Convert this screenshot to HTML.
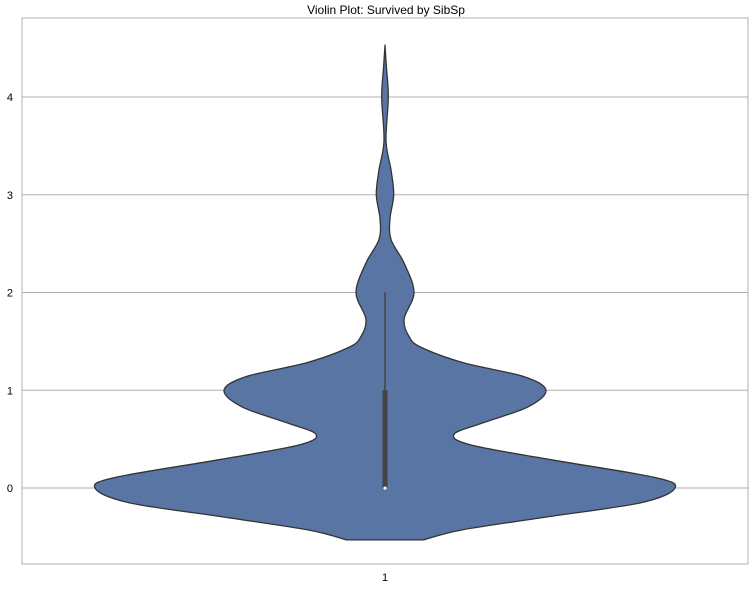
<!DOCTYPE html>
<html><head><meta charset="utf-8"><style>
body{margin:0;background:#fff;}
svg text{font-family:"Liberation Sans",Arial,sans-serif;}
</style></head><body>
<svg width="755" height="591" xmlns="http://www.w3.org/2000/svg">
<g id="root"></g>
</svg>
<script>
const yTicks=[0,1,2,3,4];
const categories=["1"];
const densY=[-0.53,-0.43,-0.3,-0.15,0,0.11,0.29,0.44,0.55,0.67,0.83,1.0,1.14,1.28,1.44,1.55,1.73,2.0,2.3,2.54,2.75,3.0,3.25,3.55,4.0,4.3,4.53];
const densW=[0.134,0.262,0.548,0.883,1.0,0.928,0.572,0.297,0.238,0.341,0.493,0.555,0.479,0.272,0.124,0.083,0.066,0.1,0.066,0.021,0.017,0.03,0.021,0.0035,0.0114,0.005,0];
const boxStats=[0,0,0,1,2]; // whiskerLow, q1, median, q3, whiskerHigh

const NS="http://www.w3.org/2000/svg";
const root=document.getElementById('root');
const L=22,R=748,T=18,B=564;
const yMin=-0.777,yMax=4.808;
const y=v=>B-(v-yMin)/(yMax-yMin)*(B-T);
const cx=i=>L+(i+0.5)*(R-L)/categories.length;
const halfMax=290;
function mk(tag,attrs,txt){const e=document.createElementNS(NS,tag);for(const k in attrs)e.setAttribute(k,attrs[k]);if(txt!==undefined)e.textContent=txt;root.appendChild(e);return e;}

const title=mk('text',{x:386,y:14,'text-anchor':'middle','font-size':12,fill:'#000'},'Violin Plot: Survived by SibSp');



yTicks.forEach(t=>{
  const g=mk('line',{x1:L,x2:R,y1:y(t),y2:y(t),stroke:'#b0b0b0','stroke-width':1});
  
  
  const lb=mk('text',{x:13,y:y(t)+4,'text-anchor':'end','font-size':11,fill:'#000'},String(t));
  
  
});
const frame=mk('rect',{x:L,y:T,width:R-L,height:B-T,fill:'none',stroke:'#b0b0b0','stroke-width':1});



categories.forEach((c,i)=>{
  const x0=cx(i);
  const right=densY.map((v,k)=>[x0+densW[k]*halfMax,y(v)]);
  const left=densY.map((v,k)=>[x0-densW[k]*halfMax,y(v)]).reverse();
  function spline(pts){
    let d='';
    for(let k=0;k<pts.length-1;k++){
      const p0=pts[Math.max(k-1,0)],p1=pts[k],p2=pts[k+1],p3=pts[Math.min(k+2,pts.length-1)];
      const c1=[p1[0]+(p2[0]-p0[0])/6,p1[1]+(p2[1]-p0[1])/6];
      const c2=[p2[0]-(p3[0]-p1[0])/6,p2[1]-(p3[1]-p1[1])/6];
      d+=` C${c1[0]},${c1[1]} ${c2[0]},${c2[1]} ${p2[0]},${p2[1]}`;
    }
    return d;
  }
  let d=`M${right[0][0]},${right[0][1]}`+spline(right)+` L${left[0][0]},${left[0][1]}`+spline(left)+' Z';
  const vp=mk('path',{d:d,fill:'#5875a4',stroke:'#333','stroke-width':1.3,'stroke-linejoin':'round'});
  
  
  const wh=mk('line',{x1:x0,x2:x0,y1:y(boxStats[0]),y2:y(boxStats[4]),stroke:'#444','stroke-width':1.5});
  
  
  const bx=mk('line',{x1:x0,x2:x0,y1:y(boxStats[1]),y2:y(boxStats[3]),stroke:'#444','stroke-width':5});
  
  
  const md=mk('circle',{cx:x0,cy:y(boxStats[2]),r:1.6,fill:'#fff'});
  
  
  const xl=mk('text',{x:x0,y:581,'text-anchor':'middle','font-size':11,fill:'#000'},c);
  
  
});
</script>
</body></html>
